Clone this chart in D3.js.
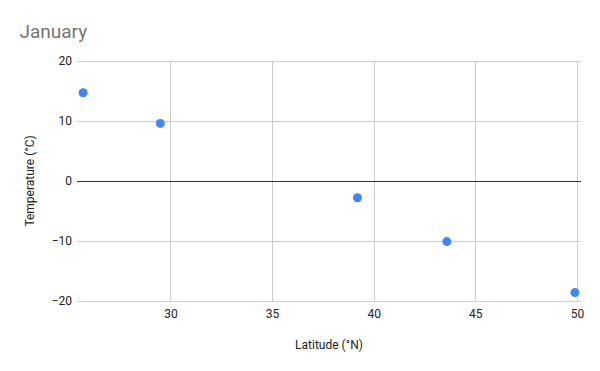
<!DOCTYPE html>
<html>
<head>
<meta charset="utf-8">
<script src="https://cdn.jsdelivr.net/npm/d3@7"></script>
<style>
  body { margin: 0; background: #fff; }
  text { font-family: Roboto, Arial, sans-serif; }
</style>
</head>
<body>
<svg id="chart" width="600" height="371"></svg>
<script>
const latitude = [25.7, 29.5, 39.2, 43.6, 49.9];
const temperature = [14.7, 9.6, -2.8, -10.1, -18.6];
const xTicks = [30, 35, 40, 45, 50];
const yTicks = [-20, -10, 0, 10, 20];

const width = 600;
const height = 371;
const margin = ({ top: 61, right: 19, bottom: 70, left: 77 });

const svg = d3.select("#chart");

// Scales
const x = d3.scaleLinear()
  .domain([25.4, 50.2])
  .range([margin.left, width - margin.right]);

const y = d3.scaleLinear()
  .domain([-20, 20])
  .range([height - margin.bottom, margin.top]);

// Title
svg.append("text")
  .attr("x", 19.5)
  .attr("y", 38)
  .attr("fill", "#757575")
  .attr("font-size", 19)
  .text("January");

// Gridlines
const grid = svg.append("g").attr("stroke", "#cccccc").attr("stroke-width", 1);

grid.selectAll(".hy")
  .data(yTicks.filter(d => d !== 0))
  .join("line")
  .attr("x1", margin.left)
  .attr("x2", width - margin.right)
  .attr("y1", d => Math.round(y(d)) + 0.5)
  .attr("y2", d => Math.round(y(d)) + 0.5);

grid.selectAll(".vx")
  .data(xTicks)
  .join("line")
  .attr("x1", d => Math.round(x(d)) + 0.5)
  .attr("x2", d => Math.round(x(d)) + 0.5)
  .attr("y1", margin.top)
  .attr("y2", height - margin.bottom);

// Zero baseline
svg.append("line")
  .attr("x1", margin.left)
  .attr("x2", width - margin.right)
  .attr("y1", Math.round(y(0)) + 0.5)
  .attr("y2", Math.round(y(0)) + 0.5)
  .attr("stroke", "#333333");

// Axes (labels only)
const yAxis = g => g
  .attr("transform", `translate(${margin.left - 5},0)`)
  .call(d3.axisLeft(y).tickValues(yTicks).tickSize(0).tickPadding(0))
  .call(g => g.select(".domain").remove())
  .call(g => g.selectAll("text").attr("font-size", 12).attr("fill", "#222").attr("font-family", "Roboto, Arial, sans-serif"));

const xAxis = g => g
  .attr("transform", `translate(0,${height - margin.bottom + 8})`)
  .call(d3.axisBottom(x).tickValues(xTicks).tickSize(0).tickPadding(0))
  .call(g => g.select(".domain").remove())
  .call(g => g.selectAll("text").attr("font-size", 12).attr("fill", "#222").attr("font-family", "Roboto, Arial, sans-serif"));

svg.append("g").call(yAxis);
svg.append("g").call(xAxis);

// Axis titles
svg.append("text")
  .attr("x", (margin.left + width - margin.right) / 2)
  .attr("y", 349)
  .attr("text-anchor", "middle")
  .attr("font-size", 12)
  .attr("fill", "#222")
  .text("Latitude (°N)");

svg.append("text")
  .attr("transform", `translate(34,${y(0)}) rotate(-90)`)
  .attr("text-anchor", "middle")
  .attr("font-size", 12)
  .attr("fill", "#222")
  .text("Temperature (°C)");

// Points
svg.append("g")
  .attr("fill", "#4285f4")
  .selectAll("circle")
  .data(latitude.map((d, i) => ({ lat: d, temp: temperature[i] })))
  .join("circle")
  .attr("cx", d => x(d.lat))
  .attr("cy", d => y(d.temp))
  .attr("r", 4.5);
</script>
</body>
</html>
